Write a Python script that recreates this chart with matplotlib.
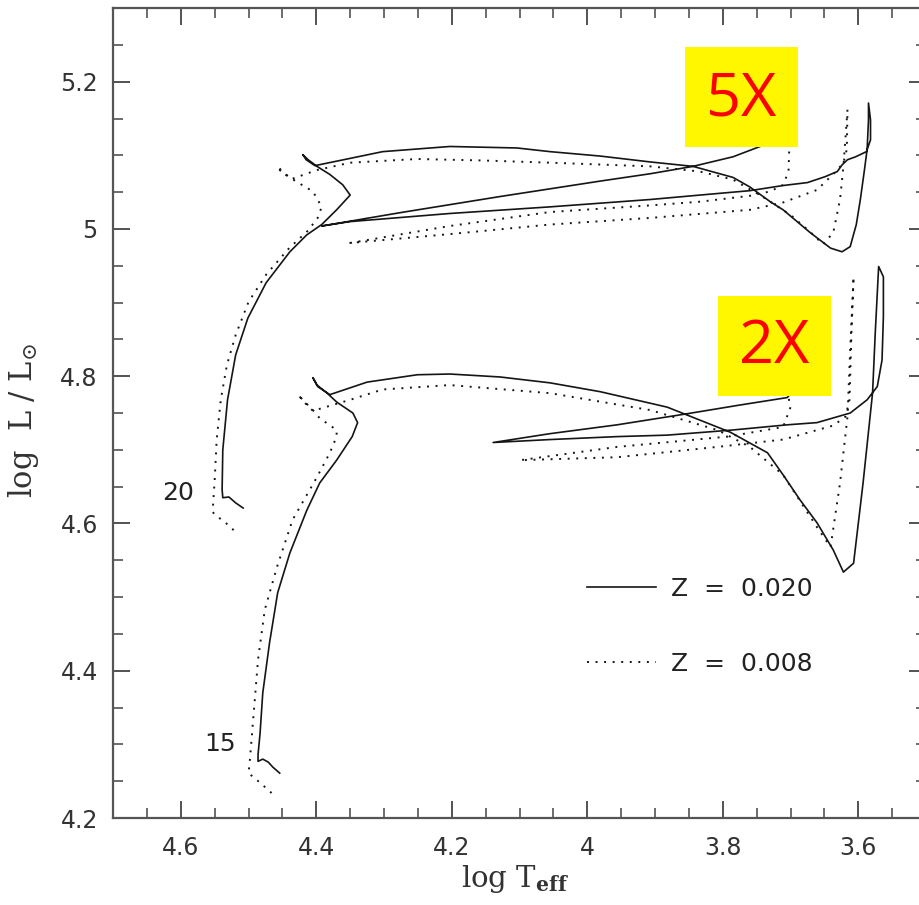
import numpy as np
import matplotlib
matplotlib.use("Agg")
import matplotlib.pyplot as plt
from matplotlib.patches import Rectangle
from matplotlib.ticker import MultipleLocator, FuncFormatter

# evolutionary tracks, (log Teff, log L/Lsun)
trk20_z020 = [
    (4.508, 4.621), (4.519, 4.628), (4.529, 4.636), (4.538, 4.635), (4.539, 4.646),
    (4.538, 4.700), (4.531, 4.768), (4.519, 4.829), (4.501, 4.879), (4.474, 4.927),
    (4.439, 4.969), (4.414, 4.992), (4.392, 5.006), (4.370, 5.026), (4.350, 5.046),
    (4.361, 5.060), (4.380, 5.074), (4.399, 5.085), (4.412, 5.094), (4.420, 5.101),
    (4.415, 5.094), (4.402, 5.086), (4.365, 5.093), (4.302, 5.105), (4.203, 5.112),
    (4.104, 5.110), (4.055, 5.105), (3.981, 5.099), (3.907, 5.091), (3.844, 5.085),
    (3.785, 5.070), (3.760, 5.057), (3.730, 5.037), (3.711, 5.026), (3.671, 4.995),
    (3.641, 4.974), (3.624, 4.969), (3.612, 4.976), (3.603, 5.006), (3.597, 5.040),
    (3.591, 5.080), (3.587, 5.108), (3.585, 5.148), (3.585, 5.171), (3.582, 5.148),
    (3.582, 5.121), (3.588, 5.105), (3.604, 5.098), (3.616, 5.094), (3.624, 5.087),
    (3.631, 5.078), (3.649, 5.071), (3.675, 5.063), (3.711, 5.059), (3.760, 5.052),
    (3.834, 5.046), (3.907, 5.040), (4.055, 5.030), (4.203, 5.021), (4.350, 5.010),
    (4.392, 5.004), (4.277, 5.022), (4.129, 5.044), (3.981, 5.065), (3.907, 5.075),
    (3.844, 5.085), (3.785, 5.098), (3.745, 5.112), (3.708, 5.124),
]

trk20_z008 = [
    (4.522, 4.591), (4.535, 4.602), (4.550, 4.612), (4.553, 4.616), (4.550, 4.659),
    (4.547, 4.714), (4.541, 4.768), (4.532, 4.815), (4.519, 4.856), (4.500, 4.901),
    (4.474, 4.938), (4.440, 4.974), (4.412, 4.998), (4.398, 5.015), (4.392, 5.030),
    (4.405, 5.051), (4.429, 5.064), (4.439, 5.070), (4.454, 5.080), (4.457, 5.085),
    (4.446, 5.074), (4.436, 5.068), (4.399, 5.080), (4.350, 5.090), (4.251, 5.095),
    (4.154, 5.093), (4.055, 5.090), (3.907, 5.085), (3.834, 5.078), (3.785, 5.067),
    (3.745, 5.046), (3.700, 5.019), (3.671, 4.996), (3.652, 4.979), (3.637, 4.995),
    (3.627, 5.040), (3.622, 5.085), (3.616, 5.162), (3.617, 5.108), (3.622, 5.090),
    (3.631, 5.080), (3.661, 5.053), (3.711, 5.036), (3.760, 5.026), (3.907, 5.015),
    (4.055, 5.006), (4.203, 4.993), (4.350, 4.981), (4.203, 5.004), (4.055, 5.023),
    (3.907, 5.032), (3.834, 5.037), (3.760, 5.045), (3.730, 5.051), (3.711, 5.060),
    (3.703, 5.078), (3.702, 5.108), (3.702, 5.148),
]

trk15_z020 = [
    (4.454, 4.261), (4.464, 4.269), (4.471, 4.276), (4.479, 4.280), (4.486, 4.277),
    (4.486, 4.286), (4.483, 4.315), (4.479, 4.370), (4.469, 4.438), (4.457, 4.506),
    (4.439, 4.560), (4.414, 4.618), (4.395, 4.655), (4.370, 4.686), (4.347, 4.718),
    (4.339, 4.737), (4.346, 4.750), (4.370, 4.765), (4.384, 4.777), (4.399, 4.788),
    (4.405, 4.798), (4.398, 4.786), (4.380, 4.775), (4.325, 4.792), (4.251, 4.802),
    (4.203, 4.803), (4.129, 4.799), (4.055, 4.791), (3.981, 4.779), (3.882, 4.758),
    (3.789, 4.724), (3.734, 4.696), (3.711, 4.666), (3.686, 4.632), (3.661, 4.601),
    (3.637, 4.564), (3.622, 4.534), (3.607, 4.546), (3.593, 4.655), (3.579, 4.777),
    (3.575, 4.859), (3.570, 4.949), (3.563, 4.935), (3.563, 4.881), (3.565, 4.822),
    (3.572, 4.786), (3.587, 4.768), (3.612, 4.750), (3.661, 4.737), (3.705, 4.734),
    (3.785, 4.727), (3.882, 4.720), (3.956, 4.718), (4.055, 4.714), (4.139, 4.710),
    (4.055, 4.722), (3.956, 4.734), (3.853, 4.749), (3.774, 4.761), (3.705, 4.771),
    (3.700, 4.776),
]

trk15_z008 = [
    (4.466, 4.234), (4.483, 4.248), (4.500, 4.261), (4.498, 4.279), (4.494, 4.324),
    (4.486, 4.415), (4.476, 4.483), (4.458, 4.541), (4.435, 4.605), (4.399, 4.663),
    (4.380, 4.696), (4.370, 4.718), (4.370, 4.727), (4.395, 4.743), (4.405, 4.754),
    (4.420, 4.768), (4.427, 4.775), (4.417, 4.764), (4.405, 4.753), (4.350, 4.768),
    (4.302, 4.782), (4.203, 4.788), (4.055, 4.777), (3.907, 4.754), (3.808, 4.727),
    (3.760, 4.704), (3.711, 4.666), (3.661, 4.595), (3.641, 4.568), (3.627, 4.655),
    (3.616, 4.745), (3.612, 4.836), (3.607, 4.935), (3.610, 4.863), (3.613, 4.768),
    (3.619, 4.745), (3.637, 4.733), (3.711, 4.714), (3.808, 4.704), (3.956, 4.690),
    (4.099, 4.686), (3.956, 4.704), (3.793, 4.718), (3.711, 4.731), (3.700, 4.758),
    (3.703, 4.771),
]

mass_labels = ["20", "15"]
mass_label_pos = [(4.604, 4.642), (4.542, 4.300)]
z_labels = ["Z  =  0.020", "Z  =  0.008"]
box_labels = ["5X", "2X"]

plt.rcParams["mathtext.fontset"] = "dejavuserif"
fig = plt.figure(figsize=(9.19, 9.05), dpi=100)
ax = fig.add_axes([0.1230, 0.0961, 0.8847, 0.8950])

solid = dict(color="#151515", lw=1.2, ls="-")
dotted = dict(color="#151515", lw=1.4, ls=(0, (1, 3.4)))

t, l = np.array(trk20_z020).T
ax.plot(t, l, label=z_labels[0], **solid)
t, l = np.array(trk20_z008).T
ax.plot(t, l, label=z_labels[1], **dotted)
t, l = np.array(trk15_z020).T
ax.plot(t, l, **solid)
t, l = np.array(trk15_z008).T
ax.plot(t, l, **dotted)

for txt, (x, y) in zip(mass_labels, mass_label_pos):
    ax.text(x, y, txt, ha="center", va="center", fontsize=18, color="#222")

ax.set_xlim(4.7, 3.5)
ax.set_ylim(4.2, 5.3)
ax.xaxis.set_major_locator(MultipleLocator(0.2))
ax.xaxis.set_minor_locator(MultipleLocator(0.05))
ax.yaxis.set_major_locator(MultipleLocator(0.2))
ax.yaxis.set_minor_locator(MultipleLocator(0.05))
fmt = FuncFormatter(lambda v, p: "%g" % round(v, 2))
ax.xaxis.set_major_formatter(fmt)
ax.yaxis.set_major_formatter(fmt)
ax.tick_params(which="both", direction="in", top=True, right=True,
               colors="#444", labelcolor="#333", labelsize=17)
ax.tick_params(which="major", length=12, width=1.3)
ax.tick_params(which="minor", length=7, width=1.1)
ax.tick_params(axis="x", pad=13)
ax.tick_params(axis="y", pad=11)
for s in ax.spines.values():
    s.set_color("#555")
    s.set_linewidth(1.6)

ax.set_xlabel(r"log T$_{\mathbf{eff}}$", fontsize=21, family="DejaVu Serif", color="#333")
ax.set_ylabel(r"log  L / L$_{\odot}$", fontsize=22, family="DejaVu Serif", color="#333")
ax.xaxis.set_label_coords(0.4945, -0.056)
ax.yaxis.set_label_coords(-0.088, 0.491)

leg = ax.legend(loc="upper left", bbox_to_anchor=(0.583, 0.298), frameon=False,
                fontsize=18, handlelength=2.75, handletextpad=0.6, labelspacing=2.05,
                borderaxespad=0, borderpad=0)
for txt in leg.get_texts():
    txt.set_color("#222")

# highlight boxes
boxes = [(0.7036, 0.8284, 0.8877), (0.7442, 0.5210, 0.5810)]
for lab, (x0, y0, yc) in zip(box_labels, boxes):
    ax.add_patch(Rectangle((x0, y0), 0.139, 0.1240, transform=ax.transAxes,
                           facecolor="#FFF700", edgecolor="none", zorder=5))
    ax.text(x0 + 0.0695, yc, lab, transform=ax.transAxes, ha="center", va="center",
            fontsize=44, color="#FF0000", family="Open Sans", zorder=6)

fig.savefig("out.png", dpi=100)
